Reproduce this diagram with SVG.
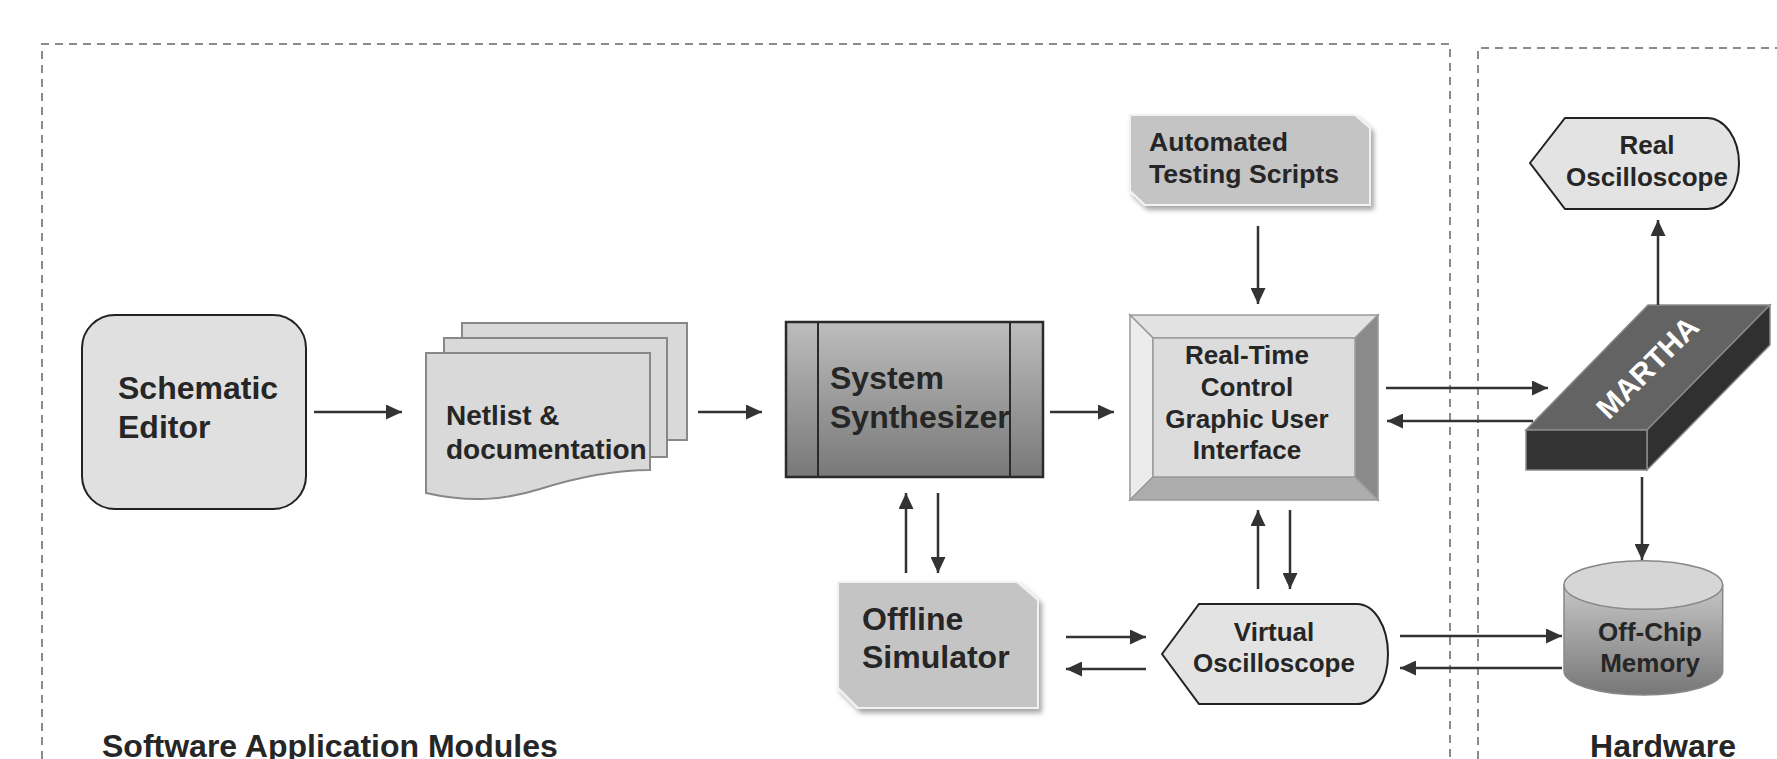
<svg xmlns="http://www.w3.org/2000/svg" width="1777" height="759" viewBox="0 0 1777 759">
<style>
text{font-family:"Liberation Sans",Arial,sans-serif;font-weight:bold;fill:#262626}
.f32{font-size:32px}
.f26{font-size:26px}
.dash{fill:none;stroke:#8a8a8a;stroke-width:2;stroke-dasharray:8 6}
.conn{fill:none;stroke:#333;stroke-width:2.5;marker-end:url(#ah)}
.page{fill:#d9d9d9;stroke:#888;stroke-width:2}
.tag{fill:#c4c4c4;stroke:#f2f2f2;stroke-width:2;filter:url(#sh)}
.disp{fill:#e3e3e3;stroke:#222;stroke-width:2}
.bev{stroke:#9a9a9a;stroke-width:1.5}
</style>
<defs>
<marker id="ah" markerUnits="userSpaceOnUse" markerWidth="16" markerHeight="15" refX="16" refY="7.5" orient="auto">
<path d="M0,0 L16,7.5 L0,15 Z" fill="#333"/>
</marker>
<linearGradient id="gsyn" x1="0" y1="0" x2="0" y2="1">
<stop offset="0" stop-color="#bdbdbd"/><stop offset="1" stop-color="#787878"/>
</linearGradient>
<linearGradient id="gcyl" x1="0" y1="0" x2="0" y2="1">
<stop offset="0" stop-color="#c6c6c6"/><stop offset="1" stop-color="#777"/>
</linearGradient>
<filter id="sh" x="-10%" y="-10%" width="125%" height="130%">
<feDropShadow dx="3" dy="4" stdDeviation="2.5" flood-color="#000" flood-opacity="0.35"/>
</filter>
</defs>

<g id="regions">
<path class="dash" d="M42,759 L42,44 L1450,44 L1450,759"/>
<path class="dash" d="M1478,759 L1478,48 L1777,48"/>
<text class="f32" x="102" y="757">Software Application Modules</text>
<text class="f32" x="1663" y="757" text-anchor="middle">Hardware</text>
</g>

<g id="schematic-editor">
<rect x="82" y="315" width="224" height="194" rx="33" fill="#e0e0e0" stroke="#222" stroke-width="2"/>
<text class="f32" x="118" y="399">Schematic</text>
<text class="f32" x="118" y="438">Editor</text>
</g>

<g id="netlist">
<rect class="page" x="462" y="323" width="225" height="117"/>
<rect class="page" x="444" y="338" width="223" height="119"/>
<path class="page" d="M426,353 L650,353 L650,470 C610,470 575,478 540,489 C505,500 470,503 426,493 Z"/>
<text x="446" y="425" font-size="28">Netlist &amp;</text>
<text x="446" y="459" font-size="28">documentation</text>
</g>

<g id="system-synthesizer">
<rect x="786" y="322" width="257" height="155" fill="url(#gsyn)" stroke="#2a2a2a" stroke-width="2.5"/>
<line x1="818" y1="322" x2="818" y2="477" stroke="#2a2a2a" stroke-width="2"/>
<line x1="1010" y1="322" x2="1010" y2="477" stroke="#2a2a2a" stroke-width="2"/>
<text class="f32" x="830" y="389">System</text>
<text class="f32" x="830" y="428">Synthesizer</text>
</g>

<g id="automated-testing-scripts">
<path class="tag" d="M1130,115 L1355,115 L1370,128 L1370,205 L1145,205 L1130,191 Z"/>
<text x="1149" y="151" font-size="26.6">Automated</text>
<text x="1149" y="183" font-size="26.6">Testing Scripts</text>
</g>

<g id="real-time-gui">
<polygon class="bev" points="1130,315 1378,315 1355,338 1153,338" fill="#e2e2e2"/>
<polygon class="bev" points="1130,315 1153,338 1153,477 1130,500" fill="#ececec"/>
<polygon class="bev" points="1378,315 1378,500 1355,477 1355,338" fill="#8a8a8a"/>
<polygon class="bev" points="1130,500 1378,500 1355,477 1153,477" fill="#adadad"/>
<rect class="bev" x="1153" y="338" width="202" height="139" fill="#dcdcdc"/>
<text class="f26" x="1247" y="364" text-anchor="middle">Real-Time</text>
<text class="f26" x="1247" y="396" text-anchor="middle">Control</text>
<text class="f26" x="1247" y="428" text-anchor="middle">Graphic User</text>
<text class="f26" x="1247" y="459" text-anchor="middle">Interface</text>
</g>

<g id="offline-simulator">
<path class="tag" d="M838,582 L1017,582 L1038,600 L1038,708 L858,708 L838,688 Z"/>
<text class="f32" x="862" y="630">Offline</text>
<text class="f32" x="862" y="668">Simulator</text>
</g>

<g id="virtual-oscilloscope">
<path class="disp" d="M1162,654 L1199,604 L1357,604 A31,50 0 0 1 1357,704 L1199,704 Z"/>
<text class="f26" x="1274" y="641" text-anchor="middle">Virtual</text>
<text class="f26" x="1274" y="672" text-anchor="middle">Oscilloscope</text>
</g>

<g id="real-oscilloscope">
<path class="disp" d="M1530,163 L1565,118 L1707,118 A32,45.5 0 0 1 1707,209 L1565,209 Z"/>
<text class="f26" x="1647" y="154" text-anchor="middle">Real</text>
<text class="f26" x="1647" y="186" text-anchor="middle">Oscilloscope</text>
</g>

<g id="martha">
<polygon points="1526,430 1648,305 1770,305 1647,430" fill="#636363" stroke="#8a8a8a" stroke-width="1.5"/>
<polygon points="1647,430 1770,305 1770,345 1647,470" fill="#303030" stroke="#8a8a8a" stroke-width="1.5"/>
<rect x="1526" y="430" width="121" height="40" fill="#343434" stroke="#8a8a8a" stroke-width="1.5"/>
<text x="1647" y="378" font-size="30" text-anchor="middle" transform="rotate(-45 1647 367)" style="fill:#fff">MARTHA</text>
</g>

<g id="off-chip-memory">
<path d="M1564,585 L1564,671 A79.3,24 0 0 0 1722.7,671 L1722.7,585 Z" fill="url(#gcyl)" stroke="#888" stroke-width="1.5"/>
<ellipse cx="1643.3" cy="585" rx="79.3" ry="24.3" fill="#d6d6d6" stroke="#888" stroke-width="1.5"/>
<text class="f26" x="1650" y="641" text-anchor="middle">Off-Chip</text>
<text class="f26" x="1650" y="672" text-anchor="middle">Memory</text>
</g>

<g id="connectors">
<line class="conn" x1="314" y1="412" x2="402" y2="412"/>
<line class="conn" x1="698" y1="412" x2="762" y2="412"/>
<line class="conn" x1="1050" y1="412" x2="1114" y2="412"/>
<line class="conn" x1="1258" y1="226" x2="1258" y2="304"/>
<line class="conn" x1="1386" y1="388" x2="1548" y2="388"/>
<line class="conn" x1="1533" y1="421" x2="1387" y2="421"/>
<line class="conn" x1="1658" y1="305" x2="1658" y2="220"/>
<line class="conn" x1="1642" y1="477" x2="1642" y2="560"/>
<line class="conn" x1="906" y1="573" x2="906" y2="493"/>
<line class="conn" x1="938" y1="493" x2="938" y2="573"/>
<line class="conn" x1="1066" y1="637" x2="1146" y2="637"/>
<line class="conn" x1="1146" y1="669" x2="1066" y2="669"/>
<line class="conn" x1="1258" y1="589" x2="1258" y2="510"/>
<line class="conn" x1="1290" y1="510" x2="1290" y2="589"/>
<line class="conn" x1="1400" y1="636" x2="1562" y2="636"/>
<line class="conn" x1="1562" y1="668" x2="1400" y2="668"/>
</g>
</svg>
